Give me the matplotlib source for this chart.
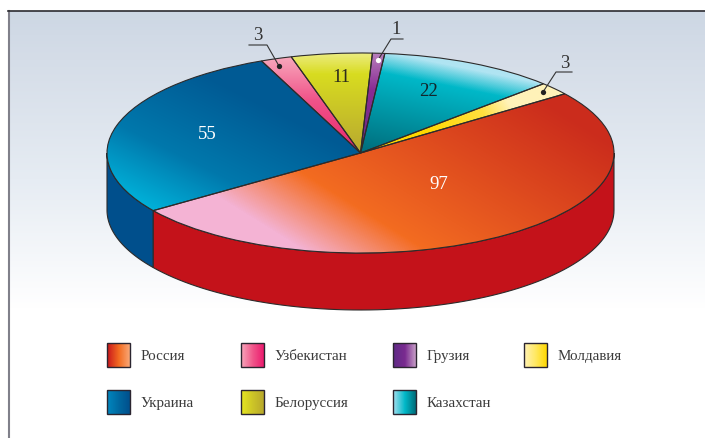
import numpy as np
import matplotlib
matplotlib.use('Agg')
import matplotlib.pyplot as plt
from matplotlib.colors import LinearSegmentedColormap, to_rgb
from matplotlib.patches import Wedge, Polygon, Rectangle
from matplotlib.transforms import Affine2D

plt.rcParams['font.family'] = ['Liberation Serif', 'DejaVu Serif']

# data, clockwise from Russia
countries = ['Россия', 'Украина', 'Узбекистан', 'Белоруссия', 'Грузия', 'Казахстан', 'Молдавия']
values = [97, 55, 3, 11, 1, 22, 3]
# slice sizes as they are drawn in the picture (same total as values)
drawn_values = [96.6, 54.5, 3.8, 9.9, 1.5, 21.7, 4.0]

# legend layout, in the order of the picture
legend_rows = [['Россия', 'Узбекистан', 'Грузия', 'Молдавия'],
               ['Украина', 'Белоруссия', 'Казахстан']]
legend_x = [107, 241, 393, 524]
legend_y = [344, 391]

W, H = 705, 439
cx, cy, a, b, depth = 360.5, 154, 253.5, 100, 57
start = 36.3

fig = plt.figure(figsize=(W / 100, H / 100), dpi=100)
ax = fig.add_axes([0, 0, 1, 1])
ax.set_xlim(0, W)
ax.set_ylim(H, 0)
ax.axis('off')

yy, xx = np.mgrid[0:H, 0:W]
xx = xx + 0.5
yy = yy + 0.5


def ramp(colors, t0, t1, t):
    # colors spaced by their own stop positions
    stops = [(p, to_rgb(c)) for p, c in colors]
    cmap = LinearSegmentedColormap.from_list('g', stops)
    return cmap((t - t0) / (t1 - t0))


def grad_image(direction, t_stops, colors, clip, zorder):
    dx, dy = direction
    t = xx * dx + yy * dy
    t0, t1 = t_stops[0], t_stops[-1]
    pos = [(s - t0) / (t1 - t0) for s in t_stops]
    img = ramp(list(zip(pos, colors)), t0, t1, t)
    im = ax.imshow(img, extent=(0, W, H, 0), zorder=zorder, interpolation='bilinear', aspect='auto')
    if clip is not None:
        im.set_clip_path(clip)
    return im


# background
bg = Rectangle((9, 12), W - 9, H - 12, transform=ax.transData, fc='none', ec='none')
ax.add_patch(bg)
grad_image((0, 1), [12, 60, 180, 310],
           ['#cdd7e4', '#d5dde8', '#e6ecf3', '#ffffff'], bg, 1)
ax.plot([8.5, 8.5], [12, H], color='#80808a', lw=1.5, zorder=2)
ax.plot([8, W], [12, 12], color='#2b2b30', lw=1.2, zorder=2)

# side wall
total = sum(drawn_values)
angles = [start]
for v in drawn_values:
    angles.append(angles[-1] - v / total * 360)
russia_end = angles[1] + 360
outline = '#2d2b2b'


def side(th1, th2, color):
    th = np.radians(np.linspace(th1, th2, 80))
    px = cx + a * np.cos(th)
    py = cy - b * np.sin(th)
    pts = np.concatenate([np.c_[px, py], np.c_[px[::-1], py[::-1] + depth]])
    ax.add_patch(Polygon(pts, closed=True, fc=color, ec=outline, lw=0.8, zorder=3))


side(180, russia_end, '#004f8c')
side(russia_end, 360, '#c4121a')

# top of the pie, each slice with own gradient
slice_style = {
    'Россия': ((0.53, -0.85), [-53, 12, 202], ['#f4b3d4', '#f36c21', '#cb2c1c']),
    'Украина': ((0.45, -0.9), [-120, -60, 24], ['#00b0d8', '#0078ac', '#005a94']),
    'Узбекистан': ((0, 1), [58, 100, 150], ['#f8a8bc', '#f0558a', '#e8286f']),
    'Белоруссия': ((0, 1), [54, 75, 154], ['#ecec80', '#d8dc20', '#b8a830']),
    'Грузия': ((0, 1), [54, 90, 154], ['#b880bc', '#8a2c94', '#6a2a80']),
    'Казахстан': ((-0.2, 1), [-24, -3, 77], ['#b0e4f2', '#00b8c8', '#00707f']),
    'Молдавия': ((0.8, -0.5), [275, 330, 355], ['#ffd800', '#ffe040', '#fff2b8']),
}
T = Affine2D().scale(a, -b).translate(cx, cy) + ax.transData
for i, name in enumerate(countries):
    w = Wedge((0, 0), 1, angles[i + 1], angles[i], fc='none', ec='none', transform=T)
    ax.add_patch(w)
    d, st, cols = slice_style[name]
    grad_image(d, st, cols, w, 4)
    edge = Wedge((0, 0), 1, angles[i + 1], angles[i], fc='none', ec=outline, lw=0.8, transform=T, zorder=5)
    ax.add_patch(edge)

# numbers on slices
ax.text(207, 134.5, str(values[1]), color='white', fontsize=13.5, ha='center', va='center', zorder=6)
ax.text(439, 184.5, str(values[0]), color='white', fontsize=13.5, ha='center', va='center', zorder=6)
ax.text(428, 91.5, str(values[5]), color='#12262c', fontsize=13.5, ha='center', va='center', zorder=6)
ax.text(341, 77.5, str(values[3]), color='#2c2c1c', fontsize=13.5, ha='center', va='center', zorder=6)

# small slices have leaders
leaders = [(values[2], (258, 36), [(249, 46), (267, 46), (279, 67)], '#222222'),
           (values[4], (396, 30), [(403, 40), (391, 40), (378, 61)], 'white'),
           (values[6], (565, 63), [(572, 73), (556, 73), (543, 93)], '#222222')]
for val, pos, line, dot in leaders:
    ax.text(pos[0], pos[1], str(val), color='#333333', fontsize=13.5, ha='center', va='center', zorder=6)
    ax.plot([p[0] for p in line], [p[1] for p in line], color='#333333', lw=0.8, zorder=6)
    ax.plot(line[-1][0], line[-1][1], 'o', ms=3.8, mfc=dot, mec='none', zorder=7)

# legend
swatch = {
    'Россия': ['#c8141c', '#f36c21', '#f9a878'],
    'Узбекистан': ['#f8a8bc', '#f0558a', '#ec1a6e'],
    'Грузия': ['#5e2a86', '#7a2a90', '#c8a0c8'],
    'Молдавия': ['#fff2b8', '#ffe860', '#ffd800'],
    'Украина': ['#0088c0', '#0068a0', '#004f8c'],
    'Белоруссия': ['#e6e620', '#ccc428', '#b8a82c'],
    'Казахстан': ['#a8e0f0', '#00b8c8', '#006a78'],
}
for r, row in enumerate(legend_rows):
    for c, name in enumerate(row):
        x0, y0 = legend_x[c], legend_y[r]
        box = Rectangle((x0, y0), 23, 24, fc='none', ec='none')
        ax.add_patch(box)
        grad_image((1, 0), [x0, x0 + 12, x0 + 23], swatch[name], box, 4)
        ax.add_patch(Rectangle((x0, y0), 23, 24, fc='none', ec='#2b2530', lw=1.0, zorder=5))
        ax.text(x0 + 33.5, y0 + 13, name, color='#3a3a3a', fontsize=10.8, ha='left', va='center', zorder=6)

ax.set_xlim(0, W)
ax.set_ylim(H, 0)
fig.savefig('out.png', dpi=100)
